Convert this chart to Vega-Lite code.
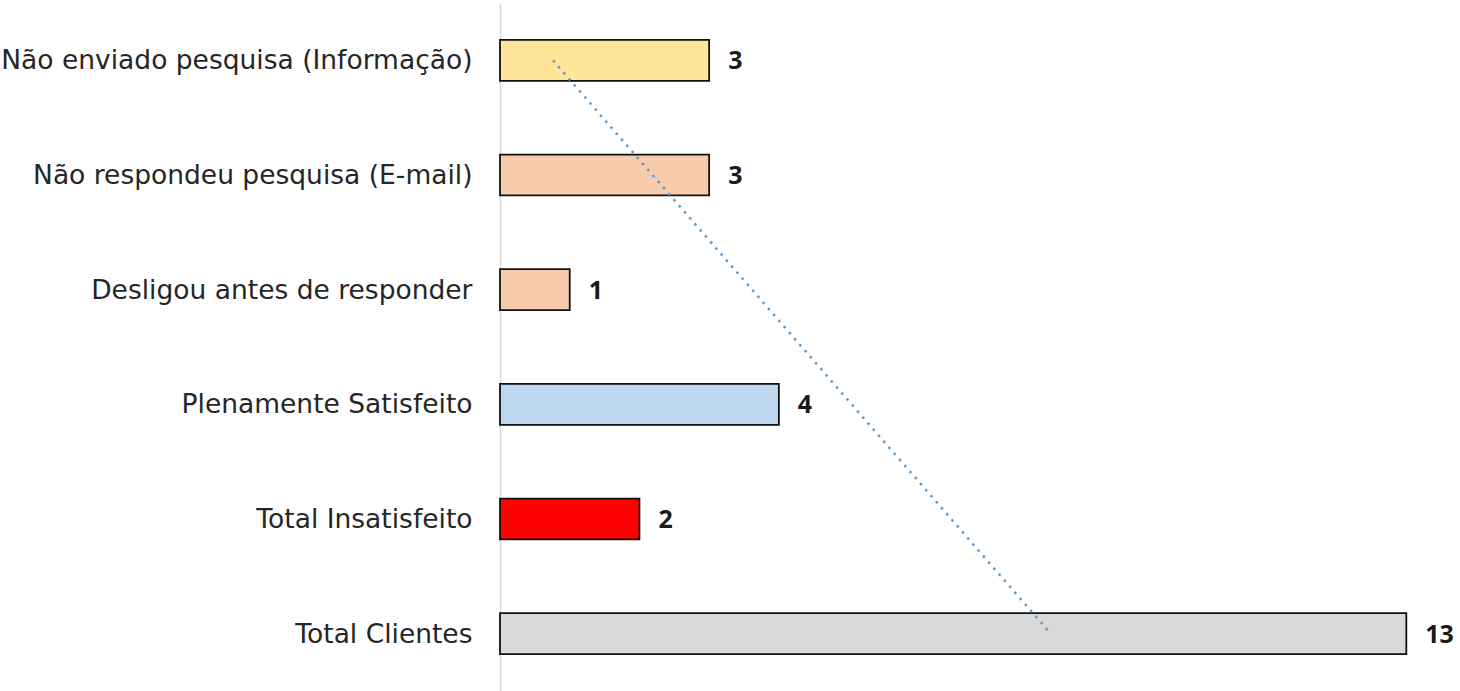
{
  "$schema": "https://vega.github.io/schema/vega-lite/v6.json",
  "autosize": {"type": "none"},
  "padding": {"left": 500, "top": 3, "right": 0, "bottom": 0},
  "width": 960,
  "height": 688,
  "background": "white",
  "config": {"view": {"stroke": null}},
  "datasets": {
    "bars": [
      {"categoria": "Não enviado pesquisa (Informação)", "qtd": 3},
      {"categoria": "Não respondeu pesquisa (E-mail)", "qtd": 3},
      {"categoria": "Desligou antes de responder", "qtd": 1},
      {"categoria": "Plenamente Satisfeito", "qtd": 4},
      {"categoria": "Total Insatisfeito", "qtd": 2},
      {"categoria": "Total Clientes", "qtd": 13}
    ],
    "tendencia": [
      {"categoria": "Não enviado pesquisa (Informação)", "qtd": 0.76},
      {"categoria": "Total Clientes", "qtd": 7.9}
    ]
  },
  "encoding": {
    "y": {
      "field": "categoria",
      "type": "nominal",
      "sort": null,
      "scale": {
        "domain": [
          "Não enviado pesquisa (Informação)",
          "Não respondeu pesquisa (E-mail)",
          "Desligou antes de responder",
          "Plenamente Satisfeito",
          "Total Insatisfeito",
          "Total Clientes"
        ],
        "paddingInner": 0.643,
        "paddingOuter": 0.3215
      },
      "axis": {
        "title": null,
        "ticks": false,
        "grid": false,
        "domain": true,
        "domainColor": "#D9D9D9",
        "domainWidth": 1.5,
        "labelFont": "DejaVu Sans",
        "labelFontSize": 26.5,
        "labelColor": "#262626",
        "labelPadding": 28,
        "labelOffset": 1,
        "labelLimit": 600
      }
    },
    "x": {
      "field": "qtd",
      "type": "quantitative",
      "scale": {"domain": [0, 13.77], "nice": false, "zero": true},
      "axis": null
    }
  },
  "layer": [
    {
      "data": {"name": "bars"},
      "mark": {"type": "bar", "stroke": "#111111", "strokeWidth": 1.8},
      "encoding": {
        "color": {
          "field": "categoria",
          "type": "nominal",
          "legend": null,
          "scale": {
            "domain": [
              "Não enviado pesquisa (Informação)",
              "Não respondeu pesquisa (E-mail)",
              "Desligou antes de responder",
              "Plenamente Satisfeito",
              "Total Insatisfeito",
              "Total Clientes"
            ],
            "range": ["#FFE699", "#F8CBAD", "#F8CBAD", "#BDD7EE", "#FF0000", "#D9D9D9"]
          }
        }
      }
    },
    {
      "data": {"name": "bars"},
      "mark": {
        "type": "text",
        "align": "left",
        "baseline": "middle",
        "dx": 19,
        "dy": 1,
        "font": "Open Sans",
        "fontSize": 25,
        "fontWeight": "bold",
        "color": "#1a1a1a"
      },
      "encoding": {"text": {"field": "qtd", "type": "quantitative"}}
    },
    {
      "data": {"name": "tendencia"},
      "mark": {
        "type": "line",
        "color": "#5B9BD5",
        "strokeWidth": 2.5,
        "strokeDash": [2.5, 5.5]
      },
      "encoding": {}
    }
  ]
}
